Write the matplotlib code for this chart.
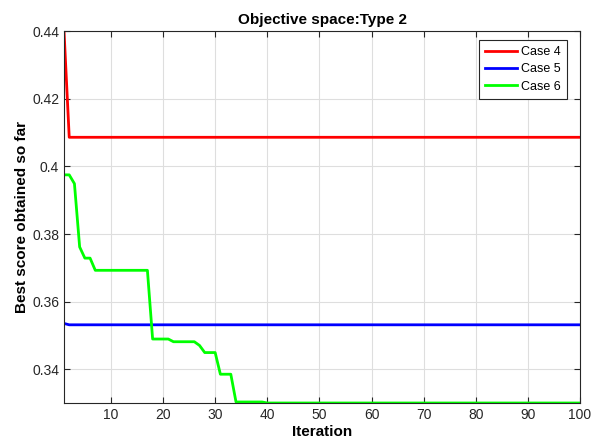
import numpy as np
import matplotlib
matplotlib.use("Agg")
import matplotlib.pyplot as plt

plt.rcParams['font.family'] = ['Liberation Sans', 'DejaVu Sans']

iterations = np.arange(1, 101)

# best-so-far values, stored as (value, run length)
case4_vals = [0.4400, 0.4086]
case4_runs = [1, 99]
case5_vals = [0.3536, 0.3532]
case5_runs = [1, 99]
case6_vals = [0.3975, 0.3949, 0.3762, 0.3729, 0.3693, 0.3490, 0.3482,
              0.3471, 0.3450, 0.3386, 0.3304, 0.3301]
case6_runs = [2, 1, 1, 2, 11, 4, 5, 1, 3, 3, 6, 61]

labels = ["Case 4", "Case 5", "Case 6"]
yticks = [0.34, 0.36, 0.38, 0.40, 0.42, 0.44]
ytick_labels = ["0.34", "0.36", "0.38", "0.4", "0.42", "0.44"]

case4 = np.repeat(case4_vals, case4_runs)
case5 = np.repeat(case5_vals, case5_runs)
case6 = np.repeat(case6_vals, case6_runs)

fig = plt.figure(figsize=(5.96, 4.43), dpi=100)
ax = fig.add_axes([0.1074, 0.0903, 0.8658, 0.8397])

ax.plot(iterations, case4, color=(1, 0, 0), lw=2, label=labels[0])
ax.plot(iterations, case5, color=(0, 0, 1), lw=2, label=labels[1])
ax.plot(iterations, case6, color=(0, 1, 0), lw=2, label=labels[2])

ax.set_xlim(1, 100)
ax.set_ylim(0.3301, 0.44)
ax.set_xticks(range(10, 101, 10))
ax.set_yticks(yticks)
ax.set_yticklabels(ytick_labels)
ax.grid(True, color="#dedede", lw=0.8)
ax.set_axisbelow(True)
ax.tick_params(direction="in", top=True, right=True, length=4,
               labelsize=10, colors="#262626", width=0.8)
for sp in ax.spines.values():
    sp.set_color("#262626")
    sp.set_linewidth(0.8)

ax.set_title("Objective space:Type 2", fontsize=11, fontweight="bold", pad=5)
ax.set_xlabel("Iteration", fontsize=11, fontweight="bold", labelpad=2)
ax.set_ylabel("Best score obtained so far", fontsize=11, fontweight="bold", labelpad=2)

leg = ax.legend(loc="upper right", bbox_to_anchor=(0.975, 0.976), borderaxespad=0,
                fontsize=9, fancybox=False, framealpha=1, edgecolor="#262626",
                handlelength=2.6, borderpad=0.5, labelspacing=0.42,
                handletextpad=0.3)
leg.get_frame().set_linewidth(0.8)

fig.savefig("out.png", dpi=100)
